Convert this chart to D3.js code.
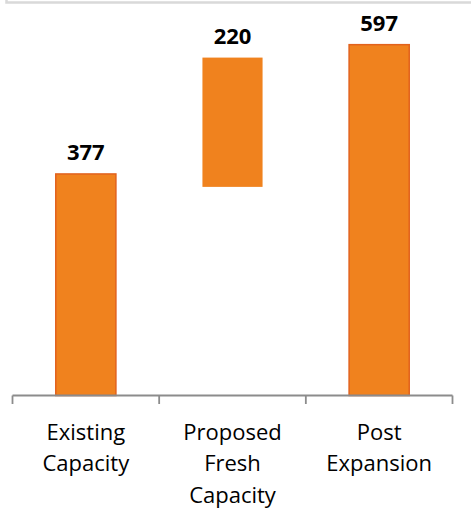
<!DOCTYPE html>
<html>
<head>
<meta charset="utf-8">
<script src="https://cdn.jsdelivr.net/npm/d3@7"></script>
<style>
  html, body { margin: 0; padding: 0; background: #fff; }
  svg { display: block; }
</style>
</head>
<body>
<svg id="chart" width="471" height="515"></svg>
<script>
// ---- data ----
const categories = [["Existing", "Capacity"], ["Proposed", "Fresh", "Capacity"], ["Post", "Expansion"]];
const categoryKeys = ["Existing Capacity", "Proposed Fresh Capacity", "Post Expansion"];
const baseValues = [0, 355, 0];          // invisible offset (waterfall base)
const barValues = [377, 220, 597];       // visible bar values
const labels = ["377", "220", "597"];
const outlined = [true, false, true];

const svg = d3.select("#chart");
const W = 471, H = 515;
const left = 12.5, right = 452.5, baseline = 395.5;

const x = d3.scaleBand().domain(categoryKeys).range([left, right])
  .paddingInner(0.59).paddingOuter(0.295);
const y = d3.scaleLinear().domain([0, 673]).range([baseline, 0]);

// top border fragment
svg.append("path").attr("d", `M6.5,0 V2.5 H${W}`)
  .attr("fill", "none").attr("stroke", "#d9d9d9").attr("stroke-width", 2.5);

// bars
categoryKeys.forEach((k, i) => {
  const y0 = y(baseValues[i]);
  const y1 = y(baseValues[i] + barValues[i]);
  svg.append("rect")
    .attr("x", x(k)).attr("width", x.bandwidth())
    .attr("y", y1).attr("height", y0 - y1)
    .attr("fill", "#F0821E")
    .attr("stroke", outlined[i] ? "#E2621D" : "none")
    .attr("stroke-width", 1.5);
  svg.append("text")
    .attr("x", x(k) + x.bandwidth() / 2)
    .attr("y", y1 - 14)
    .attr("text-anchor", "middle")
    .attr("font-family", "'Open Sans', sans-serif")
    .attr("font-weight", "bold")
    .attr("font-size", 22)
    .attr("fill", "#000")
    .text(labels[i]);
});

// axis
const bandEdges = [left, left + (right - left) / 3, left + 2 * (right - left) / 3, right];
svg.append("line").attr("x1", left).attr("x2", right)
  .attr("y1", baseline).attr("y2", baseline)
  .attr("stroke", "#8c8c8c").attr("stroke-width", 1.8);
bandEdges.forEach(e => {
  svg.append("line").attr("x1", e).attr("x2", e)
    .attr("y1", baseline).attr("y2", 404)
    .attr("stroke", "#8c8c8c").attr("stroke-width", 1.8);
});

// category labels
categoryKeys.forEach((k, i) => {
  const t = svg.append("text")
    .attr("x", x(k) + x.bandwidth() / 2)
    .attr("text-anchor", "middle")
    .attr("font-family", "'Open Sans', sans-serif")
    .attr("font-size", 22)
    .attr("fill", "#000");
  categories[i].forEach((line, j) => {
    t.append("tspan").attr("x", x(k) + x.bandwidth() / 2)
      .attr("y", 439.5 + j * 31.7).text(line);
  });
});
</script>
</body>
</html>
